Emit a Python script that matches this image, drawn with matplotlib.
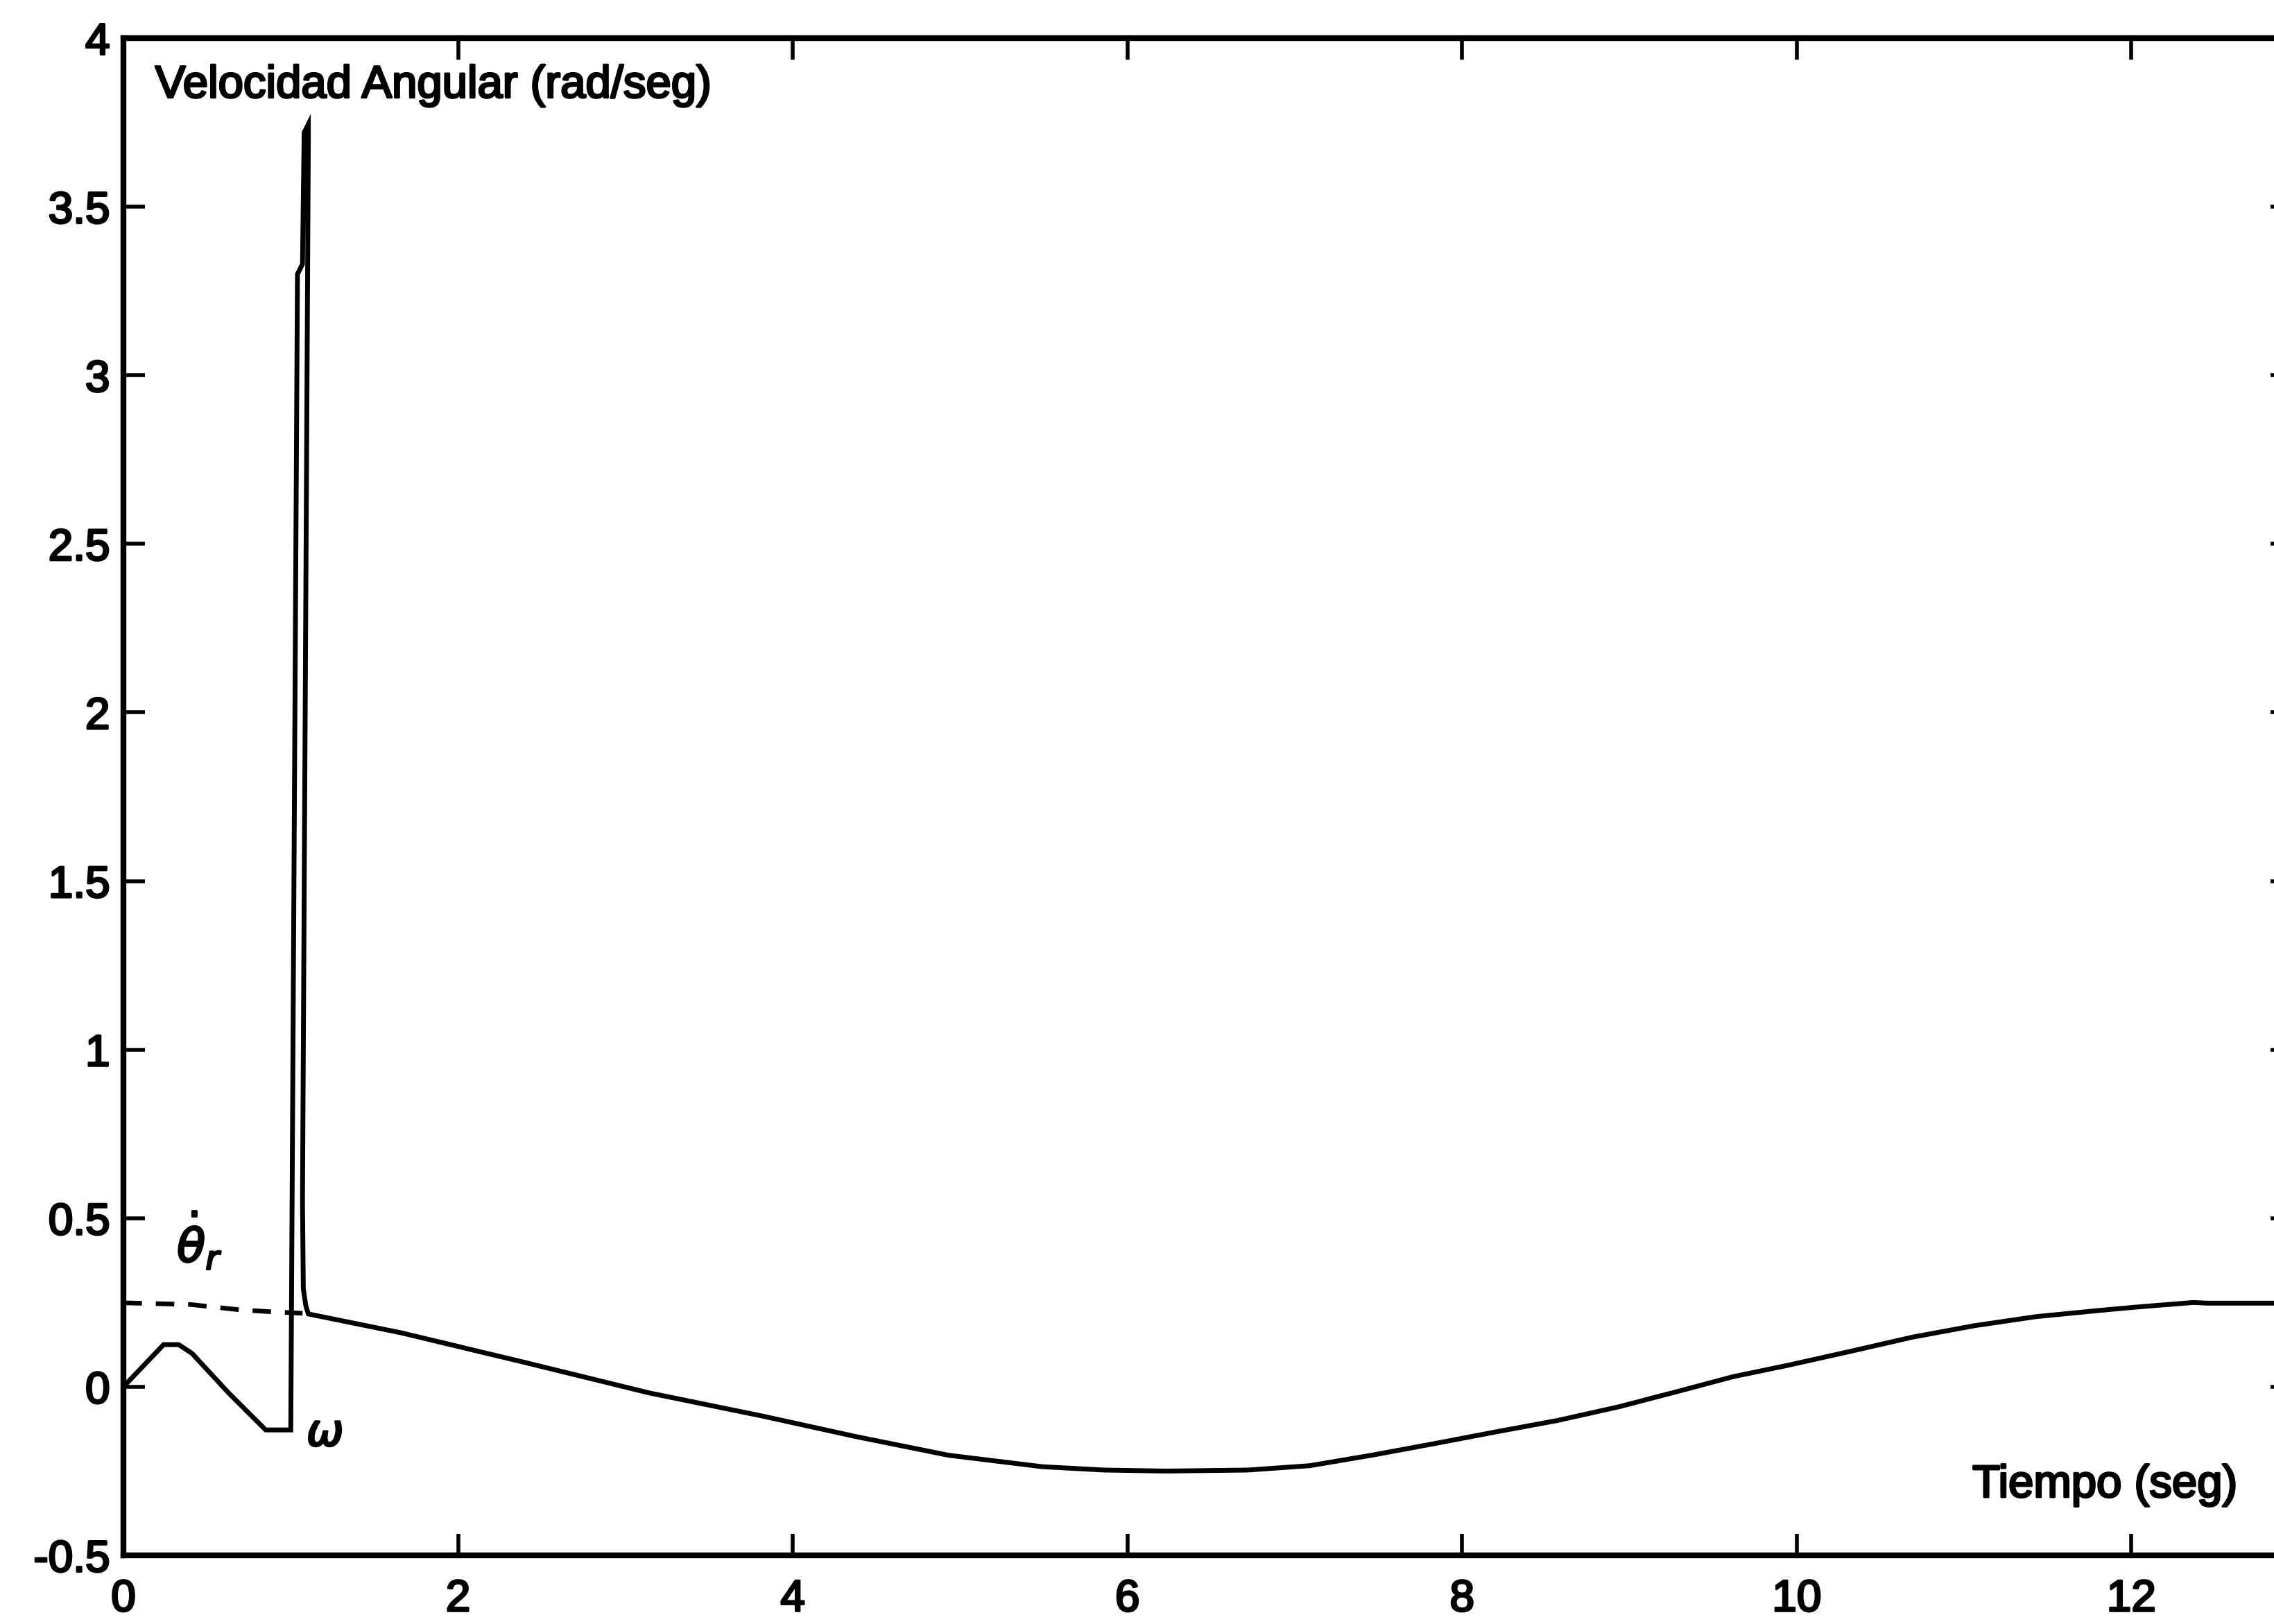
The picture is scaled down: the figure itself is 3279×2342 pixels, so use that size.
import matplotlib
matplotlib.use("Agg")
import matplotlib.pyplot as plt
import matplotlib.patheffects as pe

# ---- data ----
t_omega = [0.0, 0.24, 0.33, 0.41, 0.63, 0.85, 0.99,
           1.0, 1.04, 1.07, 1.08, 1.105, 1.105, 1.07, 1.075, 1.09, 1.105,
           1.66, 2.40, 3.14, 3.82, 4.38, 4.93, 5.49, 5.86, 6.23, 6.72,
           7.09, 7.46, 7.83, 8.20, 8.57, 8.94, 9.31, 9.62, 9.95, 10.32,
           10.69, 11.06, 11.43, 11.80, 12.02, 12.37, 12.45, 13.0]
omega = [0.0, 0.125, 0.125, 0.099, -0.019, -0.128, -0.128,
         -0.128, 3.30, 3.33, 3.72, 3.745, 3.70, 0.55, 0.29, 0.24, 0.216,
         0.16, 0.072, -0.018, -0.087, -0.148, -0.203, -0.237, -0.247, -0.250, -0.247,
         -0.234, -0.203, -0.169, -0.134, -0.100, -0.059, -0.011, 0.030, 0.064, 0.105,
         0.147, 0.181, 0.208, 0.226, 0.236, 0.250, 0.248, 0.248]

t_ref = [0.0, 0.4, 0.7, 0.9, 1.07]
theta_r_dot = [0.249, 0.244, 0.228, 0.222, 0.218]

x_ticks = [0, 2, 4, 6, 8, 10, 12]
y_ticks = [-0.5, 0, 0.5, 1, 1.5, 2, 2.5, 3, 3.5, 4]
y_tick_labels = ["-0.5", "0", "0.5", "1", "1.5", "2", "2.5", "3", "3.5", "4"]

title_text = "Velocidad Angular (rad/seg)"
xlabel_text = "Tiempo (seg)"

# ---- style ----
plt.rcParams['font.family'] = ['Liberation Sans', 'DejaVu Sans']
plt.rcParams['mathtext.fontset'] = 'dejavusans'
plt.rcParams['axes.unicode_minus'] = False

W, H = 3280, 2342
fig = plt.figure(figsize=(W / 100, H / 100), dpi=100)
left_px, right_px, bottom_px, top_px = 178, 3305, 2243, 55
ax = fig.add_axes([left_px / W, (H - bottom_px) / H,
                   (right_px - left_px) / W, (bottom_px - top_px) / H])

ax.plot(t_omega, omega, color='black', lw=5, solid_joinstyle='miter')
ax.plot(t_ref, theta_r_dot, color='black', lw=4.8, linestyle=(0, (4, 3)))

ax.set_xlim(0, 12.96)
ax.set_ylim(-0.5, 4)
ax.set_xticks(x_ticks)
ax.set_xticklabels([str(v) for v in x_ticks])
ax.set_yticks(y_ticks)
ax.set_yticklabels(y_tick_labels)

for s in ax.spines.values():
    s.set_linewidth(6)
    s.set_color('black')

ax.tick_params(axis='both', direction='in', length=22, width=4,
               labelsize=46, colors='black', top=True, right=True)
ax.tick_params(axis='x', pad=24)
ax.tick_params(axis='y', pad=14)

thick = [pe.withStroke(linewidth=2.2, foreground='black')]
for lab in ax.get_xticklabels() + ax.get_yticklabels():
    lab.set_path_effects(thick)

ax.text(0.19, 3.824, title_text, fontsize=47, ha='left', va='baseline',
        path_effects=thick)
ax.text(11.05, -0.327, xlabel_text, fontsize=47, ha='left', va='baseline',
        path_effects=thick)
ax.text(0.32, 0.37, r'$\dot{\theta}_r$', fontsize=48, ha='left', va='baseline',
        path_effects=thick)
ax.text(1.094, -0.175, r'$\omega$', fontsize=46, ha='left', va='baseline',
        path_effects=thick)

fig.savefig("out.png", dpi=100)
